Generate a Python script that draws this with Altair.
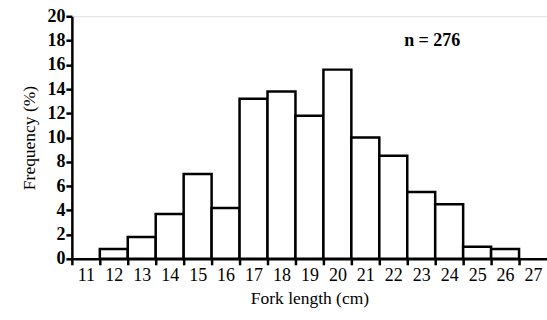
import altair as alt
import pandas as pd

lengths = [12, 13, 14, 15, 16, 17, 18, 19, 20, 21, 22, 23, 24, 25, 26]
freqs = [0.8, 1.8, 3.7, 7.0, 4.2, 13.2, 13.8, 11.8, 15.6, 10.0, 8.5, 5.5, 4.5, 1.0, 0.8]
x_ticks = [10.5 + i for i in range(17)]
y_ticks = list(range(0, 21, 2))
note = "n = 276"

df = pd.DataFrame({"len": lengths, "freq": freqs})
df["x0"] = df["len"] - 0.5
df["x1"] = df["len"] + 0.5
df["zero"] = 0

FONT = "Liberation Serif"

xscale = alt.Scale(domain=[10.5, 27.5], nice=False, zero=False)
yscale = alt.Scale(domain=[0, 20], nice=False)

bars = alt.Chart(df).mark_rect(fill="white", stroke="black", strokeWidth=2.5).encode(
    x=alt.X("x0:Q", scale=xscale,
            axis=alt.Axis(values=x_ticks, title="Fork length (cm)",
                          labelExpr="format(datum.value + 0.5, 'd')",
                          labelOffset=14, labelFlush=False, labelOverlap=False,
                          tickSize=6, tickWidth=2.5, tickColor="black",
                          domainColor="black", domainWidth=2.5,
                          labelFont=FONT, labelFontSize=18, labelColor="black",
                          labelPadding=2,
                          titleFont=FONT, titleFontSize=17.5, titleFontWeight="normal",
                          titleColor="black", titlePadding=5, grid=False)),
    x2="x1:Q",
    y=alt.Y("freq:Q", scale=yscale,
            axis=alt.Axis(values=y_ticks, title="Frequency (%)",
                          tickSize=6, tickWidth=2.5, tickColor="black",
                          domainColor="black", domainWidth=2.5,
                          labelFont=FONT, labelFontSize=18, labelFontWeight="bold",
                          labelColor="black", labelPadding=1,
                          titleFont=FONT, titleFontSize=17.5, titleFontWeight="normal",
                          titleColor="black", titlePadding=8, grid=False)),
    y2="zero:Q",
)

label = alt.Chart(pd.DataFrame({"t": [note]})).mark_text(
    font=FONT, fontSize=18, fontWeight="bold", color="black", align="center", baseline="middle"
).encode(text="t:N", x=alt.value(361), y=alt.value(25))

chart = alt.layer(bars, label).properties(
    width=476, height=243,
    padding={"left": 72, "top": 16, "right": 0, "bottom": 61},
    autosize=alt.AutoSizeParams(type="none"),
).configure_view(stroke=None).configure(background="white")

chart.save("out.html", embed_options={"renderer": "svg", "actions": False})
